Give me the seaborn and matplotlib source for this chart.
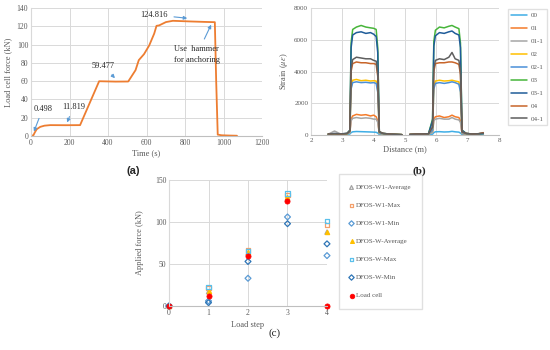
import matplotlib
matplotlib.use("Agg")
import matplotlib.pyplot as plt
import seaborn as sns
import pandas as pd

# ---- panel (a): load cell force over time
time_s = [0, 8, 12, 20, 30, 48, 70, 100, 180, 255, 354, 440, 505, 543, 560, 587,
          614, 640, 652, 666, 701, 737, 826, 900, 955, 962, 970, 990, 1030, 1070]
force_kn = [0, 0.5, 0.6, 4, 7.5, 10, 11.3, 11.9, 11.8, 11.9, 59.9, 59.5, 59.6, 72, 83, 89.5,
            99, 112, 120.5, 121, 124.6, 126, 125.3, 124.8, 124.5, 60, 1.5, 0.8, 0.5, 0.3]

# ---- panel (b): strain profiles along the fibre
dist_left = [2.55, 2.75, 2.95, 3.15, 3.24, 3.28, 3.33, 3.45, 3.6, 3.75, 3.9, 4.0, 4.08,
             4.13, 4.18, 4.3, 4.5, 4.7, 4.9]
dist_right = [5.15, 5.35, 5.55, 5.75, 5.88, 5.92, 5.97, 6.1, 6.25, 6.4, 6.5, 6.6, 6.72,
              6.77, 6.82, 6.95, 7.15, 7.35, 7.5]
series_names = ["00", "01", "01-1", "02", "02-1", "03", "03-1", "04", "04-1"]
series_colors = ["#3FAEE6", "#F47B2A", "#A5A5A5", "#FFC000", "#4A8FD8",
                 "#47B53A", "#1F5C99", "#C8652A", "#5E5E5E"]
strain_left = {
    "00": [20, 30, 20, 40, 60, 150, 200, 220, 210, 200, 190, 180, 170, 120, 30, 20, 10, 10, 10],
    "01": [40, 60, 50, 80, 150, 1000, 1200, 1300, 1250, 1280, 1200, 1250, 1150, 900, 100, 80, 40, 30, 20],
    "01-1": [50, 250, 60, 70, 120, 900, 1050, 1100, 1050, 1080, 1050, 1000, 1000, 800, 100, 60, 40, 30, 20],
    "02": [50, 70, 60, 80, 200, 3000, 3450, 3500, 3420, 3450, 3400, 3420, 3400, 2800, 150, 80, 40, 30, 20],
    "02-1": [50, 70, 60, 80, 200, 2900, 3300, 3350, 3300, 3320, 3280, 3300, 3250, 2700, 150, 80, 40, 30, 20],
    "03": [50, 80, 60, 90, 300, 5800, 6650, 6800, 6900, 6800, 6750, 6720, 6650, 5500, 200, 100, 60, 40, 20],
    "03-1": [60, 90, 70, 100, 300, 5500, 6300, 6450, 6500, 6400, 6450, 6350, 6200, 5200, 200, 100, 60, 40, 20],
    "04": [60, 80, 60, 90, 250, 4000, 4500, 4600, 4550, 4550, 4500, 4500, 4450, 3700, 200, 100, 60, 40, 20],
    "04-1": [60, 90, 70, 100, 250, 4200, 4750, 4900, 4850, 4800, 4800, 4700, 4650, 3900, 200, 100, 60, 40, 20],
}
strain_right = {
    "00": [10, 20, 20, 30, 50, 150, 200, 210, 190, 200, 230, 200, 180, 120, 30, 20, 10, 10, 20],
    "01": [20, 40, 50, 60, 200, 1000, 1150, 1200, 1100, 1150, 1250, 1150, 1100, 900, 100, 60, 40, 50, 60],
    "01-1": [20, 30, 40, 60, 150, 900, 1000, 1050, 1000, 1000, 1100, 1000, 950, 800, 100, 60, 40, 50, 60],
    "02": [20, 40, 50, 60, 300, 3000, 3400, 3450, 3400, 3420, 3450, 3400, 3350, 2800, 150, 80, 40, 50, 60],
    "02-1": [20, 40, 50, 60, 300, 2900, 3250, 3300, 3250, 3300, 3350, 3300, 3200, 2700, 150, 80, 40, 50, 60],
    "03": [30, 50, 60, 80, 1000, 5900, 6600, 6800, 6750, 6850, 6900, 6800, 6700, 5800, 300, 100, 60, 80, 100],
    "03-1": [30, 50, 60, 80, 900, 5600, 6250, 6450, 6400, 6500, 6550, 6400, 6300, 5500, 300, 100, 60, 80, 100],
    "04": [40, 60, 60, 80, 500, 4000, 4500, 4550, 4550, 4600, 4600, 4550, 4450, 3800, 200, 100, 60, 80, 150],
    "04-1": [40, 60, 60, 80, 500, 4200, 4700, 4800, 4750, 4900, 5200, 4800, 4700, 4000, 200, 100, 60, 80, 120],
}

# ---- panel (c): applied force per load step
load_step = [0, 1, 2, 3, 4]
w1_avg = [0, 17, 63, 128, 88]
w1_max = [0, 21, 66, 132, 96]
w1_min = [0, 6, 33, 106, 60]
w_avg = [0, 18, 64, 130, 88]
w_max = [0, 23, 65, 134, 101]
w_min = [0, 4, 53, 98, 74]
load_cell = [0, 11.8, 59.5, 124.8, 0]

GRAY = "#595959"
GRID = "#D9D9D9"

sns.set_style("whitegrid", {"grid.color": GRID, "axes.edgecolor": GRID})
plt.rcParams["font.family"] = ["Liberation Serif", "DejaVu Serif"]
plt.rcParams["mathtext.fontset"] = "stix"

fig = plt.figure(figsize=(5.5, 3.5), dpi=100)


def px_axes(x0, y0, x1, y1):
    return fig.add_axes([x0 / 550, 1 - y1 / 350, (x1 - x0) / 550, (y1 - y0) / 350])


def excel_style(ax, size):
    for side in ["top", "right"]:
        ax.spines[side].set_visible(False)
    ax.spines["left"].set_color(GRID)
    ax.spines["bottom"].set_color("#BFBFBF")
    ax.tick_params(length=0, pad=2, labelsize=size, colors=GRAY)
    ax.grid(True, color=GRID, lw=0.7)


# (a)
ax_a = px_axes(31, 8, 262, 136)
sns.lineplot(x=time_s, y=force_kn, ax=ax_a, color="#ED7D31", lw=1.3)
ax_a.set_xlim(0, 1200)
ax_a.set_ylim(0, 140)
ax_a.set_xticks(range(0, 1201, 200))
ax_a.set_yticks(range(0, 141, 20))
excel_style(ax_a, 5.5)
ax_a.set_xlabel("Time (s)", fontsize=6, color=GRAY, labelpad=2)
ax_a.set_ylabel("Load cell force (kN)", fontsize=6, color=GRAY, labelpad=3)

arrow = dict(arrowstyle="-|>", color="#5B9BD5", lw=0.8, mutation_scale=5)
notes = [
    ("0.498", (10, 2), (12, 30), "left"),
    ("11.819", (182, 12), (221, 32), "center"),
    ("59.477", (446, 61), (375, 77), "center"),
    ("124.816", (826, 128.5), (640, 132.5), "center"),
    ("Use  hammer\nfor anchoring", (942, 124.5), (862, 89), "center"),
]
for txt, xy, xytext, ha in notes:
    ax_a.annotate(txt, xy=xy, xytext=xytext, ha=ha, va="center", fontsize=6,
                  color="#262626", arrowprops=arrow, linespacing=1.6)

# (b)
rows = []
for name in series_names:
    for d, s in zip(dist_left, strain_left[name]):
        rows.append({"dist": d, "strain": s, "series": name, "seg": 0})
    for d, s in zip(dist_right, strain_right[name]):
        rows.append({"dist": d, "strain": s, "series": name, "seg": 1})
df_b = pd.DataFrame(rows)

ax_b = px_axes(311, 8, 499, 135)
sns.lineplot(data=df_b, x="dist", y="strain", hue="series", units="seg", estimator=None,
             hue_order=series_names, palette=dict(zip(series_names, series_colors)),
             lw=1.1, ax=ax_b)
ax_b.set_xlim(2, 8)
ax_b.set_ylim(0, 8000)
ax_b.set_xticks(range(2, 9))
ax_b.set_yticks(range(0, 8001, 2000))
excel_style(ax_b, 5)
ax_b.set_xlabel("Distance (m)", fontsize=6, color=GRAY, labelpad=2)
ax_b.set_ylabel(r"Strain ($\mu\varepsilon$)", fontsize=6, color=GRAY, labelpad=3)
handles, labels = ax_b.get_legend_handles_labels()
ax_b.legend(handles, labels, loc="upper left", bbox_to_anchor=(508 / 550, 1 - 9 / 350),
            bbox_transform=fig.transFigure, fontsize=5, frameon=True, fancybox=False,
            edgecolor=GRID, handlelength=2.3, handletextpad=0.5, labelspacing=1.02,
            borderpad=0.5, borderaxespad=0, labelcolor=GRAY)

# (c)
ax_c = px_axes(169, 180, 327, 306)
markers_c = [
    ("DFOS-W1-Average", w1_avg, "^", "#A5A5A5", "none"),
    ("DFOS-W1-Max", w1_max, "s", "#F4A06B", "none"),
    ("DFOS-W1-Min", w1_min, "D", "#5B9BD5", "none"),
    ("DFOS-W-Average", w_avg, "^", "#FFC000", "#FFC000"),
    ("DFOS-W-Max", w_max, "s", "#5BC0EB", "none"),
    ("DFOS-W-Min", w_min, "D", "#2E75B6", "none"),
]
for label, vals, mk, col, face in markers_c:
    sns.scatterplot(x=load_step, y=vals, ax=ax_c, marker=mk, s=9, facecolor=face,
                    edgecolor=col, linewidth=0.9, label=label)
sns.scatterplot(x=load_step, y=load_cell, ax=ax_c, marker="o", s=14, color="#FF0000",
                edgecolor="#FF0000", linewidth=0.5, label="Load cell")
ax_c.set_xlim(0, 4)
ax_c.set_ylim(0, 150)
ax_c.set_xticks(load_step)
ax_c.set_yticks(range(0, 151, 50))
excel_style(ax_c, 5.5)
ax_c.set_xlabel("Load step", fontsize=6, color=GRAY, labelpad=3)
ax_c.set_ylabel("Applied force (kN)", fontsize=6, color=GRAY, labelpad=8)
for coll in ax_c.collections:
    coll.set_clip_on(False)
handles, labels = ax_c.get_legend_handles_labels()
ax_c.legend(handles, labels, loc="upper left", bbox_to_anchor=(339 / 550, 1 - 174 / 350),
            bbox_transform=fig.transFigure, fontsize=5, frameon=True, fancybox=False,
            edgecolor=GRID, handlelength=0.6, handletextpad=0.3, labelspacing=1.75,
            borderpad=1.5, borderaxespad=0, labelcolor=GRAY, markerscale=0.9)

fig.text(133 / 550, 1 - 171 / 350, "(a)", ha="center", va="center", fontsize=8,
         fontweight="bold", family="Liberation Sans")
fig.text(419 / 550, 1 - 171 / 350, "(b)", ha="center", va="center", fontsize=8,
         fontweight="bold")
fig.text(275 / 550, 1 - 333 / 350, "(c)", ha="center", va="center", fontsize=8)

fig.savefig("out.png", dpi=100)
